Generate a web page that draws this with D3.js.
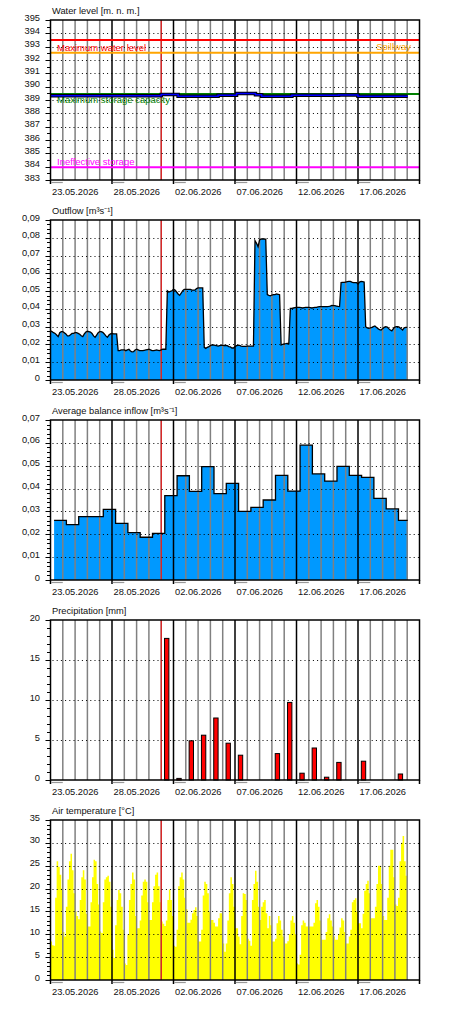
<!DOCTYPE html>
<meta charset="utf-8">
<html>
<script src="https://d3js.org/d3.v7.min.js"></script>
<style>
  body { margin: 0; background: #fff; }
  svg { font-family: "Liberation Sans", Arial, sans-serif; }
</style>
<body>
<div id="chart"></div>
<script>
// ---------- data ----------
const startDate = "2026-05-23 00:00";
const endDate = "2026-06-22 00:00";
const nowDate = "2026-06-01 00:00";
const seriesEnd = "2026-06-21 01:00";

const labelDates = ["2026-05-23", "2026-05-28", "2026-06-02", "2026-06-07", "2026-06-12", "2026-06-17"];
const labelTexts = ["23.05.2026", "28.05.2026", "02.06.2026", "07.06.2026", "12.06.2026", "17.06.2026"];

// water level [m n.m.] - step changes
const levelTimes = ["2026-05-23 00:00", "2026-06-01 00:00", "2026-06-02 09:00", "2026-06-05 15:00",
  "2026-06-07 03:00", "2026-06-08 16:00", "2026-06-09 04:00", "2026-06-11 15:00", "2026-06-15 10:00",
  "2026-06-17 00:00", "2026-06-21 01:00"];
const levelValues = [389.31, 389.42, 389.29, 389.36, 389.49, 389.39, 389.29, 389.36, 389.38, 389.29, 389.29];

const limitNames = ["Maximum water level", "Spillway", "Maximum storage capacity", "Ineffective storage"];
const limitValues = [393.5, 392.55, 389.45, 383.95];

// outflow [m3/s], every 3 hours from 23.05 00:00
const outflowValues = [
  0.0276, 0.0272, 0.0266, 0.0262, 0.0253, 0.0244, 0.0266, 0.0272, 0.0272, 0.0266,
  0.0259, 0.0248, 0.0248, 0.0255, 0.0262, 0.0262, 0.0266, 0.0266, 0.0262, 0.0257,
  0.0249, 0.0244, 0.0259, 0.0270, 0.0274, 0.0272, 0.0270, 0.0262, 0.0248, 0.0240,
  0.0253, 0.0266, 0.0272, 0.0272, 0.0268, 0.0259, 0.0248, 0.0240, 0.0253, 0.0259,
  0.0262, 0.0259, 0.0259, 0.0259, 0.0165, 0.0165, 0.0169, 0.0169, 0.0169, 0.0165,
  0.0169, 0.0173, 0.0163, 0.0158, 0.0159, 0.0169, 0.0173, 0.0169, 0.0165, 0.0165,
  0.0165, 0.0167, 0.0169, 0.0171, 0.0173, 0.0169, 0.0165, 0.0165, 0.0167, 0.0169,
  0.0167, 0.0165, 0.0169, 0.0173, 0.0173, 0.0173, 0.0502, 0.0495, 0.0499, 0.0502,
  0.0510, 0.0506, 0.0495, 0.0484, 0.0476, 0.0488, 0.0502, 0.0510, 0.0510, 0.0510,
  0.0510, 0.0510, 0.0506, 0.0506, 0.0506, 0.0514, 0.0518, 0.0518, 0.0518, 0.0518,
  0.0184, 0.0178, 0.0184, 0.0188, 0.0193, 0.0197, 0.0197, 0.0195, 0.0193, 0.0191,
  0.0193, 0.0195, 0.0195, 0.0193, 0.0195, 0.0193, 0.0188, 0.0186, 0.0180, 0.0180,
  0.0188, 0.0193, 0.0195, 0.0195, 0.0191, 0.0189, 0.0189, 0.0189, 0.0191, 0.0191,
  0.0191, 0.0191, 0.0191, 0.0784, 0.0769, 0.0750, 0.0788, 0.0793, 0.0793, 0.0793,
  0.0791, 0.0480, 0.0476, 0.0474, 0.0478, 0.0480, 0.0480, 0.0484, 0.0482, 0.0480,
  0.0197, 0.0201, 0.0203, 0.0204, 0.0206, 0.0204, 0.0403, 0.0403, 0.0405, 0.0407,
  0.0409, 0.0409, 0.0409, 0.0407, 0.0405, 0.0407, 0.0409, 0.0409, 0.0409, 0.0407,
  0.0405, 0.0407, 0.0409, 0.0409, 0.0411, 0.0413, 0.0413, 0.0413, 0.0413, 0.0413,
  0.0413, 0.0414, 0.0416, 0.0420, 0.0418, 0.0418, 0.0416, 0.0414, 0.0413, 0.0548,
  0.0549, 0.0549, 0.0551, 0.0553, 0.0555, 0.0555, 0.0551, 0.0548, 0.0548, 0.0548,
  0.0540, 0.0551, 0.0555, 0.0553, 0.0551, 0.0300, 0.0293, 0.0291, 0.0293, 0.0296,
  0.0300, 0.0304, 0.0296, 0.0289, 0.0283, 0.0281, 0.0289, 0.0296, 0.0300, 0.0298,
  0.0289, 0.0281, 0.0276, 0.0289, 0.0298, 0.0300, 0.0300, 0.0296, 0.0289, 0.0281,
  0.0293, 0.0296, 0.0296
];

// average balance inflow [m3/s], daily from 07:00
const inflowStart = "2026-05-23 07:00";
const inflowValues = [0.0261, 0.0242, 0.0277, 0.0277, 0.0309, 0.0248, 0.0207, 0.0187, 0.0204, 0.0369,
  0.0456, 0.0388, 0.0496, 0.0378, 0.0423, 0.0300, 0.0318, 0.0350, 0.0458, 0.0389,
  0.0590, 0.0464, 0.0433, 0.0497, 0.0458, 0.0449, 0.0357, 0.0311, 0.0261];

// precipitation [mm], daily totals
const precipDates = ["2026-06-01", "2026-06-02", "2026-06-03", "2026-06-04", "2026-06-05", "2026-06-06",
  "2026-06-07", "2026-06-10", "2026-06-11", "2026-06-12", "2026-06-13", "2026-06-14", "2026-06-15",
  "2026-06-17", "2026-06-20"];
const precipValues = [17.7, 0.2, 4.9, 5.6, 7.75, 4.6, 3.1, 3.3, 9.7, 0.85, 4.0, 0.35, 2.2, 2.35, 0.75];

// air temperature [C], every 3 hours from 23.05 00:00
const tempValues = [
  8.4, 7.6, 7.5, 18, 26, 24.8, 23, 20,
  10.5, 9.5, 16, 22, 26, 27.6, 24, 19,
  15, 14, 13.3, 17.5, 22.5, 24, 22, 14.5,
  11.7, 11.7, 17, 22.5, 26.3, 26, 21, 16.5,
  10.6, 10.3, 17, 22, 22.5, 22.8, 21.5, 16,
  6.6, 4.8, 12, 17.5, 19.7, 19, 16, 11,
  3.6, 3.3, 10, 17.5, 21, 23.5, 22, 14,
  11.3, 11.3, 13, 18.5, 21.5, 22, 21.5, 17,
  13.1, 13.1, 17, 20.5, 23, 23.5, 20.5, 17,
  12.8, 12.3, 11.8, 13, 17.5, 19.8, 17.5, 14,
  7.5, 7.3, 11, 20.5, 22.5, 23.5, 22, 18,
  15.5, 12.5, 12.5, 13.2, 14.6, 15.3, 15.9, 14,
  8.4, 8.4, 11, 18.5, 21.5, 21, 19, 15,
  13.1, 13.1, 12.5, 11.7, 11.7, 13.5, 14.6, 14.6,
  8, 6.2, 8, 13, 19, 22.5, 21, 16,
  11.3, 11.3, 9.5, 7.8, 14, 19, 18.8, 17.5,
  9, 8.6, 7.5, 17.5, 21, 23.9, 21.5, 16,
  13.1, 16, 17, 17.5, 14.6, 11.3, 14, 12,
  8.4, 8.4, 9, 12.4, 14, 13, 11, 9.5,
  8, 8, 8.5, 10, 13, 14, 12.5, 10,
  3.6, 3.4, 5.5, 12, 13, 12.5, 11.7, 11.7,
  11.7, 11.7, 11.7, 12.5, 16.8, 17.5, 16, 13,
  8.8, 8.8, 8.8, 10.5, 13.5, 14.4, 13, 11.7,
  9.5, 8.8, 8.8, 10, 11.5, 13.5, 13, 10.5,
  8, 8, 9.5, 11, 17, 17.5, 17.9, 15,
  12.4, 12.4, 11.3, 14.5, 19.5, 21, 21.7, 19,
  13.5, 13.5, 13.5, 16, 21, 25, 25, 21,
  14, 13.1, 13.1, 18, 25, 28.5, 28.5, 22.5,
  16.5, 16.2, 18, 26, 30, 31.5, 26, 22.8
];

// y-axis ticks
const levelTicks = [383, 384, 385, 386, 387, 388, 389, 390, 391, 392, 393, 394, 395];
const outflowTicks = [0, 0.01, 0.02, 0.03, 0.04, 0.05, 0.06, 0.07, 0.08, 0.09];
const inflowTicks = [0, 0.01, 0.02, 0.03, 0.04, 0.05, 0.06, 0.07];
const precipTicks = [0, 5, 10, 15, 20];
const tempTicks = [0, 5, 10, 15, 20, 25, 30, 35];

// ---------- setup ----------
const parse = d3.utcParse("%Y-%m-%d %H:%M");
const parseDay = d3.utcParse("%Y-%m-%d");
const W = 450, H = 1010, plotH = 160;

const svg = d3.select("#chart").append("svg").attr("width", W).attr("height", H);
svg.append("rect").attr("width", W).attr("height", H).attr("fill", "#fff");

const x = d3.scaleUtc()
  .domain([parse(startDate), parse(endDate)])
  .range([50.5, 419.5]);

const commaFmt = d => d === 0 ? "0" : d.toFixed(2).replace(".", ",");

function makePanel(top, domain, ticks, minorStep, fmt, title) {
  const y = d3.scaleLinear().domain(domain).range([top + plotH, top]);
  const g = svg.append("g");
  const under = g.append("g"), grid = g.append("g"), over = g.append("g"), axes = g.append("g");
  const bottom = top + plotH;

  // day grid
  const days = d3.utcDay.range(x.domain()[0], x.domain()[1]).slice(1);
  const major = new Set(labelDates.map(d => +parseDay(d)));
  grid.selectAll("line.day").data(days).join("line")
    .attr("class", "day")
    .attr("x1", d => x(d)).attr("x2", d => x(d))
    .attr("y1", top).attr("y2", bottom)
    .attr("stroke", d => major.has(+d) ? "#000" : "#808080")
    .attr("stroke-width", 1.5);

  // current time
  grid.append("line")
    .attr("x1", x(parse(nowDate))).attr("x2", x(parse(nowDate)))
    .attr("y1", top).attr("y2", bottom)
    .attr("stroke", "#ff0000").attr("stroke-width", 1);

  // dotted horizontals
  grid.selectAll("line.h").data(ticks.filter(t => t > domain[0] && t < domain[1])).join("line")
    .attr("class", "h")
    .attr("x1", x.range()[0] + 2).attr("x2", x.range()[1])
    .attr("y1", d => Math.round(y(d)) + 0.5).attr("y2", d => Math.round(y(d)) + 0.5)
    .attr("stroke", "#000").attr("stroke-width", 1)
    .attr("stroke-dasharray", "1,3.2");

  // frame
  axes.append("rect")
    .attr("x", x.range()[0]).attr("y", top)
    .attr("width", x.range()[1] - x.range()[0]).attr("height", plotH)
    .attr("fill", "none").attr("stroke", "#000").attr("stroke-width", 1.5);

  // y ticks
  const minor = d3.range(domain[0], domain[1] + minorStep / 2, minorStep);
  axes.selectAll("line.mt").data(minor).join("line")
    .attr("x1", 47).attr("x2", 50)
    .attr("y1", d => Math.round(y(d)) + 0.5).attr("y2", d => Math.round(y(d)) + 0.5)
    .attr("stroke", "#000").attr("stroke-width", 1);
  axes.selectAll("line.Mt").data(ticks).join("line")
    .attr("x1", 45.5).attr("x2", 50)
    .attr("y1", d => Math.round(y(d)) + 0.5).attr("y2", d => Math.round(y(d)) + 0.5)
    .attr("stroke", "#000").attr("stroke-width", 1);
  axes.selectAll("text.yl").data(ticks).join("text")
    .attr("x", 40).attr("y", d => y(d) - 2.5)
    .attr("text-anchor", "end").attr("dominant-baseline", "central")
    .attr("font-size", 9.3).attr("fill", "#111")
    .text(fmt);

  // x axis: ticks, markers, labels
  const lab = labelDates.map(parseDay);
  axes.selectAll("line.xt").data(lab.concat([x.domain()[1]])).join("line")
    .attr("x1", d => x(d)).attr("x2", d => x(d))
    .attr("y1", bottom).attr("y2", bottom + 4)
    .attr("stroke", "#000").attr("stroke-width", 1.5);
  axes.selectAll("line.xm").data(lab).join("line")
    .attr("x1", d => x(d) + 0.8).attr("x2", d => x(d3.utcDay.offset(d, 1)))
    .attr("y1", bottom + 2.5).attr("y2", bottom + 2.5)
    .attr("stroke", "#999").attr("stroke-width", 1.2);
  axes.selectAll("text.xl").data(lab).join("text")
    .attr("x", d => x(d) + 1.5).attr("y", bottom + 15)
    .attr("font-size", 9.3).attr("fill", "#111")
    .text((d, i) => labelTexts[i]);

  // title
  axes.append("text")
    .attr("x", 52).attr("y", top - 6)
    .attr("font-size", 9.3).attr("fill", "#111")
    .text(title);

  return { y, under, over };
}

// ---------- panel 1: water level ----------
const p1 = makePanel(20, [383, 395], levelTicks, 0.5, d => d, "Water level [m. n. m.]");
const limitColors = ["#ff0000", "#ffa500", "#008000", "#ff00ff"];
p1.over.selectAll("line.lim").data(limitValues).join("line")
  .attr("x1", x.range()[0]).attr("x2", x.range()[1])
  .attr("y1", d => p1.y(d)).attr("y2", d => p1.y(d))
  .attr("stroke", (d, i) => limitColors[i]).attr("stroke-width", 2);
const limitAnchor = ["start", "end", "start", "start"];
const limitDy = [10.5, -2.5, 8.5, -2];
p1.over.selectAll("text.lim").data(limitValues).join("text")
  .attr("x", (d, i) => limitAnchor[i] === "end" ? 411 : 57)
  .attr("y", (d, i) => p1.y(d) + limitDy[i])
  .attr("text-anchor", (d, i) => limitAnchor[i])
  .attr("font-size", 9.5)
  .attr("fill", (d, i) => limitColors[i])
  .text((d, i) => limitNames[i]);

const levelData = levelTimes.map((t, i) => ({ t: parse(t), v: levelValues[i] }));
const levelLine = d3.line().curve(d3.curveStepAfter).x(d => x(d.t)).y(d => p1.y(d.v));
p1.over.append("path").datum(levelData).attr("d", levelLine)
  .attr("fill", "none").attr("stroke", "#000").attr("stroke-width", 3.5);
p1.over.append("path").datum(levelData).attr("d", levelLine)
  .attr("fill", "none").attr("stroke", "#0000ff").attr("stroke-width", 1.5);

// ---------- panel 2: outflow ----------
const p2 = makePanel(220, [0, 0.09], outflowTicks, 0.0025, commaFmt, "Outflow [m\u00b3s\u207b\u00b9]");
const t0 = parse(startDate);
const outData = outflowValues.map((v, i) => ({ t: d3.utcHour.offset(t0, 3 * i), v }));
p2.under.append("path").datum(outData)
  .attr("d", d3.area().x(d => x(d.t)).y0(p2.y(0)).y1(d => p2.y(d.v)))
  .attr("fill", "#0099ff");
p2.over.append("path").datum(outData)
  .attr("d", d3.line().x(d => x(d.t)).y(d => p2.y(d.v)))
  .attr("fill", "none").attr("stroke", "#000").attr("stroke-width", 1.3);

// ---------- panel 3: average balance inflow ----------
const p3 = makePanel(420, [0, 0.07], inflowTicks, 0.002, commaFmt, "Average balance inflow [m\u00b3s\u207b\u00b9]");
const i0 = parse(inflowStart);
const inData = inflowValues.map((v, i) => ({ t: d3.utcDay.offset(i0, i), v }));
inData.push({ t: parse(seriesEnd), v: inflowValues[inflowValues.length - 1] });
p3.under.append("path").datum(inData)
  .attr("d", d3.area().curve(d3.curveStepAfter).x(d => x(d.t)).y0(p3.y(0)).y1(d => p3.y(d.v)))
  .attr("fill", "#0099ff");
p3.over.append("path").datum(inData)
  .attr("d", d3.line().curve(d3.curveStepAfter).x(d => x(d.t)).y(d => p3.y(d.v)))
  .attr("fill", "none").attr("stroke", "#000").attr("stroke-width", 1.3);

// ---------- panel 4: precipitation ----------
const p4 = makePanel(620, [0, 20], precipTicks, 1, d => d, "Precipitation [mm]");
p4.over.selectAll("rect.bar").data(precipValues).join("rect")
  .attr("x", (d, i) => x(d3.utcMinute.offset(parseDay(precipDates[i]), 390)))
  .attr("width", (d, i) => x(d3.utcMinute.offset(parseDay(precipDates[i]), 900)) - x(d3.utcMinute.offset(parseDay(precipDates[i]), 390)))
  .attr("y", d => p4.y(d))
  .attr("height", d => p4.y(0) - p4.y(d))
  .attr("fill", "#ff0000").attr("stroke", "#000").attr("stroke-width", 1);

// ---------- panel 5: air temperature ----------
const p5 = makePanel(820, [0, 35], tempTicks, 1, d => d, "Air temperature [\u00b0C]");
const tData = tempValues.map((v, i) => ({ t: d3.utcHour.offset(t0, 3 * i), v }));
tData.push({ t: d3.utcHour.offset(t0, 3 * tempValues.length), v: tempValues[tempValues.length - 1] });
p5.under.append("path").datum(tData)
  .attr("d", d3.area().curve(d3.curveStepAfter).x(d => x(d.t)).y0(p5.y(0)).y1(d => p5.y(d.v)))
  .attr("fill", "#ffff00");
</script>
</body>
</html>
